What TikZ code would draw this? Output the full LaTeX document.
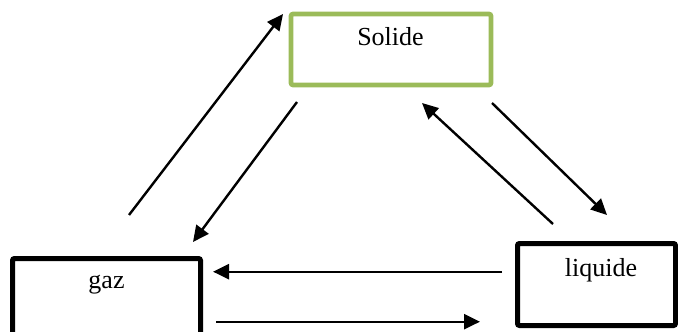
\documentclass[tikz,border=0pt]{standalone}
\usepackage{fontspec}
\setmainfont{Liberation Serif}
\usetikzlibrary{arrows.meta}
\definecolor{leafgreen}{HTML}{9BBB59}
\begin{document}
\begin{tikzpicture}[x=0.5pt,y=-0.5pt,
  statebox/.style={draw=black,line width=2.5pt,rounded corners=1pt,inner sep=0pt},
  solidbox/.style={statebox,draw=leafgreen,line width=2.3pt},
  lbl/.style={font=\fontsize{13}{15}\selectfont,inner sep=0pt,anchor=base},
  flow/.style={line width=1.2pt,-{Triangle[length=8pt,width=7.5pt]}}]
\useasboundingbox (0,0) rectangle (678,331);
\clip (0,0) rectangle (678,331);
% boxes
\node[solidbox,minimum width=100pt,minimum height=35.5pt] (solide) at (391,49.5) {};
\node[statebox,minimum width=94pt,minimum height=50pt] (gaz) at (106.5,308.5) {};
\node[statebox,minimum width=79pt,minimum height=41pt] (liquide) at (596.5,284.5) {};
% labels
\node[lbl] (tsolide) at (390.5,46) {Solide};
\node[lbl] (tgaz) at (106.5,288) {gaz};
\node[lbl] (tliquide) at (601,276) {liquide};
% connector ends
\coordinate (g1) at (129,215);   \coordinate (s1) at (283,14);
\coordinate (s2) at (297,102);   \coordinate (g2) at (193,242);
\coordinate (l3) at (553,224);   \coordinate (s3) at (422,103);
\coordinate (s4) at (492,103);   \coordinate (l4) at (607,215);
\coordinate (l5) at (502,271.7); \coordinate (g5) at (213,271.7);
\coordinate (g6) at (216,321.7); \coordinate (l6) at (480,321.7);
% transitions
\draw[flow] (g1) -- (s1);
\draw[flow] (s2) -- (g2);
\draw[flow] (l3) -- (s3);
\draw[flow] (s4) -- (l4);
\draw[flow] (l5) -- (g5);
\draw[flow] (g6) -- (l6);
\end{tikzpicture}
\end{document}
